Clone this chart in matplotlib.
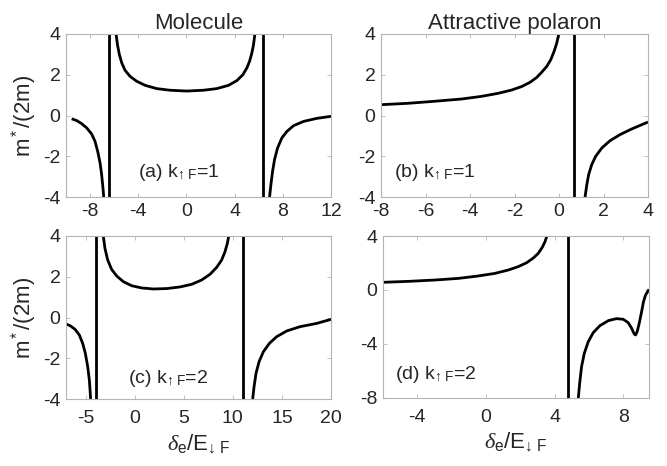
import matplotlib
matplotlib.use("Agg")
import matplotlib.pyplot as plt

plt.rcParams['font.family'] = ['Liberation Sans', 'DejaVu Sans']
plt.rcParams['mathtext.fontset'] = 'custom'
plt.rcParams['mathtext.rm'] = 'Liberation Sans'
plt.rcParams['mathtext.it'] = 'Liberation Serif:italic'
plt.rcParams['mathtext.bf'] = 'Liberation Sans:bold'
plt.rcParams['axes.unicode_minus'] = False

# ---- Panel (a): Molecule, k_up_F = 1 ----
a_x1 = [-9.53, -9.11, -8.70, -8.28, -7.87, -7.59, -7.37, -7.17, -7.04, -6.93, -6.87]
a_y1 = [-0.16, -0.25, -0.40, -0.61, -0.91, -1.27, -1.76, -2.33, -2.91, -3.56, -4.0]
a_x2 = [-5.84, -5.73, -5.57, -5.37, -5.10, -4.68, -4.13, -3.43, -2.47, -1.36, 0.03,
        1.41, 2.52, 3.49, 4.18, 4.68, 5.01, 5.24, 5.43, 5.57, 5.68]
a_y2 = [4.0, 3.48, 2.99, 2.58, 2.22, 1.92, 1.68, 1.48, 1.32, 1.24, 1.20,
        1.24, 1.32, 1.48, 1.71, 2.00, 2.33, 2.66, 3.07, 3.48, 4.0]
a_x3 = [6.90, 7.01, 7.15, 7.31, 7.56, 7.92, 8.34, 8.89, 9.72, 10.83, 12.0]
a_y3 = [-4.0, -3.40, -2.74, -2.17, -1.60, -1.10, -0.78, -0.50, -0.29, -0.14, -0.04]
a_poles = [-6.43, 6.34]

# ---- Panel (b): Attractive polaron, k_up_F = 1 ----
b_x1 = [-8.0, -6.77, -5.57, -4.37, -3.48, -2.73, -2.13, -1.68, -1.30, -1.00, -0.78,
        -0.55, -0.37, -0.22, -0.10, -0.01]
b_y1 = [0.53, 0.60, 0.70, 0.81, 0.94, 1.09, 1.25, 1.42, 1.63, 1.87, 2.12,
        2.41, 2.74, 3.15, 3.56, 4.0]
b_x2 = [1.17, 1.25, 1.33, 1.47, 1.65, 1.92, 2.29, 2.74, 3.27, 4.0]
b_y2 = [-4.0, -3.40, -2.91, -2.41, -2.00, -1.60, -1.24, -0.94, -0.66, -0.32]
b_poles = [0.66]

# ---- Panel (c): Molecule, k_up_F = 2 ----
c_x1 = [-7.0, -6.59, -6.08, -5.64, -5.30, -5.03, -4.79, -4.62, -4.49]
c_y1 = [-0.32, -0.40, -0.58, -0.86, -1.27, -1.76, -2.41, -3.07, -4.0]
c_x2 = [-3.20, -3.03, -2.75, -2.35, -1.84, -1.16, -0.31, 0.71, 1.90, 3.26, 4.62,
        5.81, 6.82, 7.67, 8.35, 8.86, 9.20, 9.44, 9.58]
c_y2 = [4.0, 3.39, 2.82, 2.36, 2.04, 1.76, 1.56, 1.45, 1.40, 1.42, 1.50,
        1.63, 1.84, 2.12, 2.46, 2.82, 3.23, 3.64, 4.0]
c_x3 = [12.02, 12.16, 12.36, 12.67, 13.11, 13.72, 14.47, 15.49, 16.85, 18.54, 20.0]
c_y3 = [-4.0, -3.40, -2.74, -2.17, -1.68, -1.27, -0.94, -0.66, -0.45, -0.29, -0.09]
c_poles = [-3.94, 11.0]

# ---- Panel (d): Attractive polaron, k_up_F = 2 ----
d_x1 = [-6.0, -4.52, -2.97, -1.61, -0.45, 0.52, 1.30, 1.88, 2.37, 2.76, 3.05,
        3.28, 3.44, 3.55]
d_y1 = [0.57, 0.64, 0.74, 0.86, 1.04, 1.23, 1.48, 1.73, 2.02, 2.37, 2.72,
        3.16, 3.58, 4.0]
d_x2 = [5.38, 5.46, 5.57, 5.73, 5.96, 6.25, 6.64, 7.13, 7.61, 8.0, 8.29, 8.49,
        8.64, 8.72, 8.81, 8.93, 9.07, 9.18, 9.30, 9.42, 9.50]
d_y2 = [-8.0, -6.91, -5.68, -4.69, -3.83, -3.16, -2.64, -2.27, -2.12, -2.17, -2.42,
        -2.84, -3.26, -3.33, -3.09, -2.47, -1.60, -0.86, -0.37, -0.12, 0.05]
d_poles = [4.80]

panels = [
    dict(branches=[(a_x1, a_y1), (a_x2, a_y2), (a_x3, a_y3)], poles=a_poles,
         xlim=(-10, 12), ylim=(-4, 4), xticks=[-8, -4, 0, 4, 8, 12], yticks=[-4, -2, 0, 2, 4],
         label=r'(a) k$_{\mathrm{↑}\ \mathrm{F}}$=1', lpos=(0.27, 0.12), title='Molecule'),
    dict(branches=[(b_x1, b_y1), (b_x2, b_y2)], poles=b_poles,
         xlim=(-8, 4), ylim=(-4, 4), xticks=[-8, -6, -4, -2, 0, 2, 4], yticks=[-4, -2, 0, 2, 4],
         label=r'(b) k$_{\mathrm{↑}\ \mathrm{F}}$=1', lpos=(0.05, 0.12), title='Attractive polaron'),
    dict(branches=[(c_x1, c_y1), (c_x2, c_y2), (c_x3, c_y3)], poles=c_poles,
         xlim=(-7, 20), ylim=(-4, 4), xticks=[-5, 0, 5, 10, 15, 20], yticks=[-4, -2, 0, 2, 4],
         label=r'(c) k$_{\mathrm{↑}\ \mathrm{F}}$=2', lpos=(0.235, 0.10), title=None),
    dict(branches=[(d_x1, d_y1), (d_x2, d_y2)], poles=d_poles,
         xlim=(-6, 9.5), ylim=(-8, 4), xticks=[-4, 0, 4, 8], yticks=[-8, -4, 0, 4],
         label=r'(d) k$_{\mathrm{↑}\ \mathrm{F}}$=2', lpos=(0.045, 0.12), title=None),
]

W, H = 667, 466
fig = plt.figure(figsize=(W / 100, H / 100), dpi=100)
boxes = [(66, 34, 331, 197), (381, 34, 648, 197), (66, 236, 331, 399), (383, 236, 649, 398)]

spine_col = '#b4b4b4'
text_col = '#262626'

for i, (p, (l, t, r, b)) in enumerate(zip(panels, boxes)):
    ax = fig.add_axes([l / W, 1 - b / H, (r - l) / W, (b - t) / H])
    for bx, by in p['branches']:
        ax.plot(bx, by, color='black', lw=2.0, solid_capstyle='butt')
    for xp in p['poles']:
        ax.axvline(xp, color='black', lw=2.0)
    ax.set_xlim(*p['xlim'])
    ax.set_ylim(*p['ylim'])
    ax.set_xticks(p['xticks'])
    ax.set_yticks(p['yticks'])
    ax.tick_params(direction='in', top=True, right=True, length=3, width=0.6,
                   color=spine_col, labelsize=14, labelcolor=text_col)
    ax.tick_params(axis='y', pad=4)
    ax.tick_params(axis='x', pad=4.5 if i < 2 else 8)
    for s in ax.spines.values():
        s.set_color(spine_col)
        s.set_linewidth(0.8)
    ax.text(p['lpos'][0], p['lpos'][1], p['label'], transform=ax.transAxes,
            fontsize=14, color=text_col, ha='left', va='baseline')
    if p['title']:
        ax.set_title(p['title'], fontsize=16, color=text_col, pad=3.5)
    if i % 2 == 0:
        ax.set_ylabel(r'm$^*$/(2m)', fontsize=16, color=text_col, labelpad=3)
    if i >= 2:
        ax.set_xlabel(r'$\delta_{\mathrm{e}}$/E$_{\mathrm{↓}\ \mathrm{F}}$', fontsize=16,
                      color=text_col)
        ax.xaxis.set_label_coords(0.5, -0.205)

fig.savefig('out.png', dpi=100)
